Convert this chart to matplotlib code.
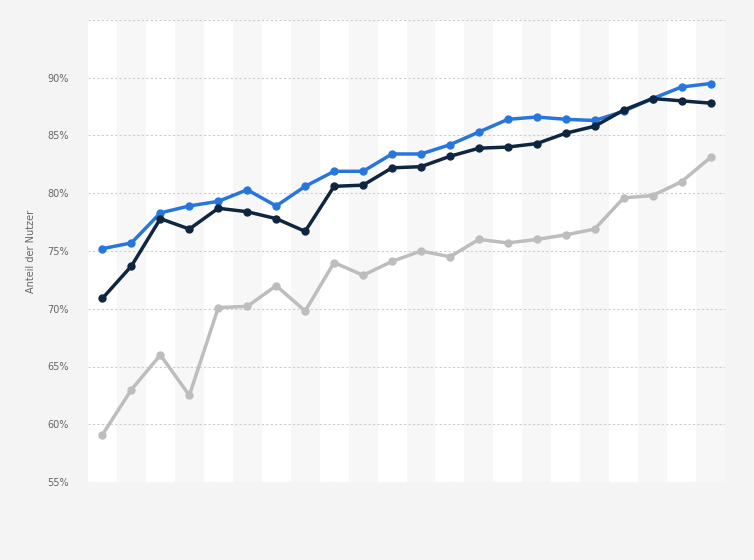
import numpy as np
import matplotlib.pyplot as plt

# values (percent)
idx = np.arange(22)
blue = [75.2, 75.7, 78.3, 78.9, 79.3, 80.3, 78.9, 80.6, 81.9, 81.9, 83.4,
        83.4, 84.2, 85.3, 86.4, 86.6, 86.4, 86.3, 87.1, 88.2, 89.2, 89.5]
dark = [70.9, 73.7, 77.8, 76.9, 78.7, 78.4, 77.8, 76.7, 80.6, 80.7, 82.2,
        82.3, 83.2, 83.9, 84.0, 84.3, 85.2, 85.8, 87.2, 88.2, 88.0, 87.8]
gray = [59.1, 63.0, 66.0, 62.5, 70.1, 70.2, 72.0, 69.8, 74.0, 72.9, 74.1,
        75.0, 74.5, 76.0, 75.7, 76.0, 76.4, 76.9, 79.6, 79.8, 81.0, 83.1]
yticks = [55, 60, 65, 70, 75, 80, 85, 90]

fig = plt.figure(figsize=(7.54, 5.60), dpi=100, facecolor='#f4f4f4')
ax = fig.add_axes([88/754, 1 - 482/560, 637/754, 462/560])
ax.set_facecolor('white')

# alternating column bands
for i in idx:
    if i % 2 == 1:
        ax.axvspan(i - 0.5, i + 0.5, color='#f7f7f7', zorder=0, lw=0)

ax.plot(idx, gray, color='#bdbdbd', lw=2.5, marker='o', ms=5, zorder=3)
ax.plot(idx, blue, color='#2876dd', lw=2.5, marker='o', ms=5, zorder=4)
ax.plot(idx, dark, color='#0f2640', lw=2.5, marker='o', ms=5, zorder=5)

ax.set_xlim(-0.5, 21.5)
ax.set_ylim(55, 95)
ax.set_yticks(yticks + [95])
ax.set_yticklabels([f'{v}%' for v in yticks] + [''])
ax.set_xticks([])
ax.grid(axis='y', color='#cccccc', ls=(0, (2, 2)), lw=0.8)
ax.set_axisbelow(True)
for s in ax.spines.values():
    s.set_visible(False)
ax.tick_params(axis='y', length=0, labelsize=7, labelcolor='#666666', pad=14)
ax.set_ylabel('Anteil der Nutzer', fontsize=7, color='#666666', labelpad=8)

fig.savefig('out.png', dpi=100, facecolor=fig.get_facecolor())
